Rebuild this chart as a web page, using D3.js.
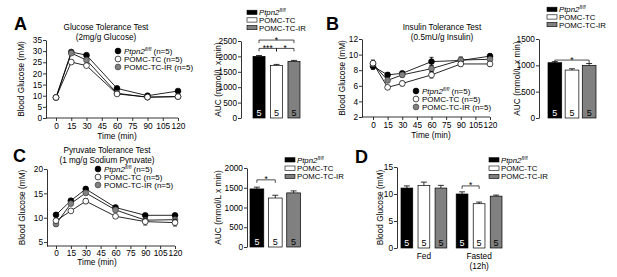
<!DOCTYPE html>
<html lang="en">
  <head>
    <meta charset="UTF-8" />
    <title>Glucose, insulin and pyruvate tolerance</title>
    <style>
      body {
        margin: 0;
        background: #fff;
        font-family: "Liberation Sans", Arial, Helvetica, sans-serif;
      }
      .axis path,
      .axis line {
        stroke: #000;
        stroke-width: 0.8;
      }
      .axis text {
        font-size: 8.3px;
        fill: #000;
      }
    </style>
  </head>
  <body>
    <script src="https://d3js.org/d3.v7.min.js"></script>
    <script>
      const groups = ['Ptpn2', 'POMC-TC', 'POMC-TC-IR'];
      const groupFill = ['#000000', '#ffffff', '#808080'];
      const timePoints = [0, 15, 30, 60, 90, 120];
      const timeTicks = [0, 15, 30, 45, 60, 75, 90, 105, 120];

      // A - glucose tolerance test
      const gttPtpn2 = [9.2, 29.6, 28.2, 13.3, 10.0, 12.1];
      const gttTC = [9.2, 25.1, 23.5, 10.8, 9.4, 9.6];
      const gttIR = [9.2, 29.1, 26.0, 11.1, 9.3, 9.6];
      const gttErr = [0.4, 0.8, 0.7, 0.5, 0.4, 0.5];
      const gttTicks = [0, 5, 10, 15, 20, 25, 30, 35];
      const gttAuc = [2000, 1710, 1840];
      const gttAucErr = [30, 30, 30];
      const gttAucTicks = [0, 500, 1000, 1500, 2000, 2500];

      // B - insulin tolerance test
      const ittPtpn2 = [8.5, 7.4, 7.6, 9.1, 9.25, 9.8];
      const ittTC = [8.9, 5.8, 6.3, 7.4, 8.8, 8.8];
      const ittIR = [8.8, 6.7, 7.4, 8.2, 9.3, 9.4];
      const ittErrPtpn2 = [0.4, 0.3, 0.2, 0.55, 0.3, 0.3];
      const ittErrTC = [0.3, 0.2, 0.3, 0.4, 0.3, 0.3];
      const ittErrIR = [0.5, 0.3, 0.3, 0.4, 0.4, 0.3];
      const ittTicks = [2, 4, 6, 8, 10, 12];
      const ittAuc = [1050, 910, 1000];
      const ittAucErr = [20, 25, 35];
      const ittAucTicks = [0, 500, 1000, 1500];

      // C - pyruvate tolerance test
      const pttPtpn2 = [10.6, 13.5, 15.9, 12.1, 10.5, 10.5];
      const pttTC = [9.4, 11.4, 13.4, 10.3, 9.2, 9.0];
      const pttIR = [8.7, 12.9, 15.1, 11.6, 9.5, 9.6];
      const pttErrPtpn2 = [0.4, 0.3, 0.4, 0.3, 0.3, 0.3];
      const pttErrTC = [0.4, 0.3, 0.5, 0.4, 0.7, 0.7];
      const pttErrIR = [0.5, 0.3, 0.4, 0.3, 0.4, 0.4];
      const pttTicks = [5, 10, 15, 20];
      const pttAuc = [1470, 1240, 1370];
      const pttAucErr = [45, 70, 50];
      const pttAucTicks = [0, 500, 1000, 1500, 2000];

      // D - fed / fasted blood glucose
      const conditions = ['Fed', 'Fasted'];
      const fedGlucose = [11.1, 11.6, 11.1];
      const fastedGlucose = [10.0, 8.2, 9.6];
      const fedErr = [0.4, 0.6, 0.5];
      const fastedErr = [0.4, 0.3, 0.2];
      const glucoseTicks = [0, 5, 10, 15];

      const nPerGroup = [5, 5, 5];

      const svg = d3.select('body').append('svg').attr('width', 617).attr('height', 277);
      const fmt = d3.format('d');

      // italic Ptpn2 with fl/fl superscript
      function groupText(sel, i, suffix) {
        if (i === 0) {
          sel.append('tspan').attr('font-style', 'italic').text('Ptpn2');
          sel.append('tspan').attr('font-style', 'italic').attr('font-size', '0.62em').attr('dy', -3).text('fl/fl');
          sel.append('tspan').attr('dy', 3).text(suffix);
        } else {
          sel.append('tspan').text(groups[i] + suffix);
        }
      }

      function panelLetter(x, y, t) {
        svg.append('text').attr('x', x).attr('y', y).attr('font-size', 18).attr('font-weight', 'bold').text(t);
      }

      function yLabel(x, y, t) {
        svg.append('text')
          .attr('transform', `translate(${x},${y}) rotate(-90)`)
          .attr('text-anchor', 'middle')
          .attr('dy', '0.35em')
          .attr('font-size', 8.3)
          .text(t);
      }

      function lineChart(c) {
        const x = d3.scaleLinear().domain([0, 120]).range([c.x0, c.x1]);
        const y = d3.scaleLinear().domain(c.yDomain).range([c.yBottom, c.yTop]);
        const g = svg.append('g');

        g.append('g').attr('class', 'axis')
          .attr('transform', `translate(${c.axisX},0)`)
          .call(d3.axisLeft(y).tickValues(c.yTicks).tickFormat(fmt).tickSize(3).tickSizeOuter(0).tickPadding(1));

        const xa = g.append('g').attr('class', 'axis')
          .attr('transform', `translate(0,${c.yBottom})`)
          .call(d3.axisBottom(x).tickValues(timeTicks).tickFormat(fmt).tickSize(3).tickSizeOuter(0).tickPadding(c.tickPad));
        xa.select('.domain').attr('d', `M${c.axisX},0H${c.x1}`);

        const line = d3.line().x((d, i) => x(timePoints[i])).y((d) => y(d));

        c.series.forEach((s) => {
          g.append('path').attr('d', line(s.values))
            .attr('fill', 'none').attr('stroke', '#000').attr('stroke-width', 0.85);
        });
        c.series.forEach((s) => {
          s.values.forEach((v, i) => {
            const cx = x(timePoints[i]);
            g.append('line').attr('x1', cx).attr('x2', cx)
              .attr('y1', y(v - s.err[i])).attr('y2', y(v + s.err[i]))
              .attr('stroke', '#000').attr('stroke-width', 0.8);
            [v - s.err[i], v + s.err[i]].forEach((e) => {
              g.append('line').attr('x1', cx - 2).attr('x2', cx + 2)
                .attr('y1', y(e)).attr('y2', y(e))
                .attr('stroke', '#000').attr('stroke-width', 0.8);
            });
          });
          g.selectAll(null).data(s.values).join('circle')
            .attr('cx', (d, i) => x(timePoints[i]))
            .attr('cy', (d) => y(d))
            .attr('r', 2.9)
            .attr('fill', s.fill)
            .attr('stroke', s.fill === '#808080' ? '#444' : '#000')
            .attr('stroke-width', 0.7);
        });

        c.title.forEach((t, i) => {
          svg.append('text').attr('x', c.titleX).attr('y', c.titleY + i * 9.5)
            .attr('text-anchor', 'middle').attr('font-size', 8.2).text(t);
        });
        svg.append('text').attr('x', c.timeX).attr('y', c.yBottom + c.timeDy)
          .attr('text-anchor', 'middle').attr('font-size', 8.3).text('Time (min)');
        yLabel(c.yLabelX, (c.yTop + c.yBottom) / 2, 'Blood Glucose (mM)');

        // legend, drawn in group order
        [0, 1, 2].forEach((i) => {
          const ly = c.legY + i * 8;
          svg.append('circle').attr('cx', c.legX).attr('cy', ly).attr('r', 2.9)
            .attr('fill', groupFill[i]).attr('stroke', i === 2 ? '#444' : '#000').attr('stroke-width', 0.7);
          const t = svg.append('text').attr('x', c.legX + 6).attr('y', ly + 2.9).attr('font-size', 8);
          groupText(t, i, ' (n=5)');
        });
      }

      function barLegend(x, y0, step) {
        [0, 1, 2].forEach((i) => {
          const ly = y0 + i * step;
          svg.append('rect').attr('x', x).attr('y', ly - 2.3).attr('width', 10).attr('height', 4.3)
            .attr('fill', groupFill[i]).attr('stroke', '#000').attr('stroke-width', 0.6);
          const t = svg.append('text').attr('x', x + 12).attr('y', ly + 2.8).attr('font-size', 7.8);
          groupText(t, i, '');
        });
      }

      function drawBars(g, x, y, values, errs, yBottom) {
        values.forEach((v, i) => {
          const bx = x(groups[i]);
          const bw = x.bandwidth();
          g.append('rect').attr('x', bx).attr('y', y(v)).attr('width', bw).attr('height', yBottom - y(v))
            .attr('fill', groupFill[i]).attr('stroke', '#000').attr('stroke-width', 0.7);
          const cx = bx + bw / 2;
          g.append('line').attr('x1', cx).attr('x2', cx).attr('y1', y(v)).attr('y2', y(v + errs[i]))
            .attr('stroke', '#000').attr('stroke-width', 0.8);
          g.append('line').attr('x1', cx - 3).attr('x2', cx + 3).attr('y1', y(v + errs[i])).attr('y2', y(v + errs[i]))
            .attr('stroke', '#000').attr('stroke-width', 0.8);
          g.append('text').attr('x', cx).attr('y', yBottom - 2).attr('text-anchor', 'middle')
            .attr('font-size', 9).attr('fill', i === 0 ? '#fff' : '#000').text(nPerGroup[i]);
        });
      }

      function bracket(g, x, y, a, b, level, label) {
        const xa = x(groups[a]) + x.bandwidth() / 2;
        const xb = x(groups[b]) + x.bandwidth() / 2;
        const ly = y(level);
        g.append('path').attr('d', `M${xa},${ly + 3}V${ly}H${xb}V${ly + 3}`)
          .attr('fill', 'none').attr('stroke', '#000').attr('stroke-width', 0.7);
        g.append('text').attr('x', (xa + xb) / 2).attr('y', ly + 2.5).attr('text-anchor', 'middle')
          .attr('font-size', 8.5).text(label);
      }

      function aucChart(c) {
        const y = d3.scaleLinear().domain(c.yDomain).range([c.yBottom, c.yTop]);
        const x = d3.scaleBand().domain(groups).range(c.xRange).paddingInner(c.pad).paddingOuter(0);
        const g = svg.append('g');
        g.append('g').attr('class', 'axis')
          .attr('transform', `translate(${c.axisX},0)`)
          .call(d3.axisLeft(y).tickValues(c.yTicks).tickFormat(fmt).tickSize(3).tickSizeOuter(0).tickPadding(1));
        drawBars(g, x, y, c.values, c.errs, c.yBottom);
        c.brackets.forEach((b) => bracket(g, x, y, b[0], b[1], b[2], b[3]));
        yLabel(c.yLabelX, (c.yTop + c.yBottom) / 2, 'AUC (mmol/L x min)');
        barLegend(c.legX, c.legY, c.legStep);
      }

      // ---- A ----
      panelLetter(14, 30, 'A');
      lineChart({
        x0: 56, x1: 178, yTop: 40, yBottom: 118, axisX: 46,
        yDomain: [0, 35], yTicks: gttTicks, tickPad: 2,
        series: [
          { values: gttPtpn2, err: gttErr, fill: groupFill[0] },
          { values: gttIR, err: gttErr, fill: groupFill[2] },
          { values: gttTC, err: gttErr, fill: groupFill[1] },
        ],
        title: ['Glucose Tolerance Test', '(2mg/g Glucose)'],
        titleX: 106, titleY: 30, timeX: 117, timeDy: 21, yLabelX: 21,
        legX: 118, legY: 51,
      });
      aucChart({
        axisX: 241, yTop: 41, yBottom: 118, yDomain: [0, 2500], yTicks: gttAucTicks,
        xRange: [253, 300], pad: 0.31, values: gttAuc, errs: gttAucErr,
        brackets: [[0, 1, 2260, '***'], [1, 2, 2260, '*'], [0, 2, 2530, '*']],
        yLabelX: 218, legX: 247, legY: 12.5, legStep: 7.6,
      });

      // ---- B ----
      panelLetter(326, 30, 'B');
      lineChart({
        x0: 373, x1: 490, yTop: 39, yBottom: 117, axisX: 362,
        yDomain: [2, 12], yTicks: ittTicks, tickPad: 2,
        series: [
          { values: ittPtpn2, err: ittErrPtpn2, fill: groupFill[0] },
          { values: ittIR, err: ittErrIR, fill: groupFill[2] },
          { values: ittTC, err: ittErrTC, fill: groupFill[1] },
        ],
        title: ['Insulin Tolerance Test', '(0.5mU/g Insulin)'],
        titleX: 442, titleY: 30, timeX: 431, timeDy: 21, yLabelX: 342,
        legX: 416, legY: 91,
      });
      aucChart({
        axisX: 539, yTop: 39, yBottom: 118, yDomain: [0, 1500], yTicks: ittAucTicks,
        xRange: [548, 596], pad: 0.2, values: ittAuc, errs: ittAucErr,
        brackets: [[0, 2, 1100, '*']],
        yLabelX: 517, legX: 547, legY: 9.5, legStep: 7.6,
      });

      // ---- C ----
      panelLetter(13, 162, 'C');
      lineChart({
        x0: 56, x1: 175, yTop: 169, yBottom: 246, axisX: 47,
        yDomain: [4.2, 20], yTicks: pttTicks, tickPad: 1,
        series: [
          { values: pttPtpn2, err: pttErrPtpn2, fill: groupFill[0] },
          { values: pttIR, err: pttErrIR, fill: groupFill[2] },
          { values: pttTC, err: pttErrTC, fill: groupFill[1] },
        ],
        title: ['Pyruvate Tolerance Test', '(1 mg/g Sodium Pyruvate)'],
        titleX: 107, titleY: 153, timeX: 97, timeDy: 19, yLabelX: 22,
        legX: 98, legY: 169,
      });
      aucChart({
        axisX: 247, yTop: 168, yBottom: 247, yDomain: [0, 2000], yTicks: pttAucTicks,
        xRange: [250, 300.5], pad: 0.25, values: pttAuc, errs: pttAucErr,
        brackets: [[0, 1, 1700, '*']],
        yLabelX: 218, legX: 285, legY: 160, legStep: 8.3,
      });

      // ---- D ----
      panelLetter(355, 163, 'D');
      {
        const yTop = 167, yBottom = 248, axisX = 397;
        const y = d3.scaleLinear().domain([0, 15]).range([yBottom, yTop]);
        const x0 = d3.scaleBand().domain(conditions).range([401, 502]).paddingInner(0.17).paddingOuter(0);
        const g = svg.append('g');
        g.append('g').attr('class', 'axis')
          .attr('transform', `translate(${axisX},0)`)
          .call(d3.axisLeft(y).tickValues(glucoseTicks).tickFormat(fmt).tickSize(3).tickSizeOuter(0).tickPadding(1));
        const sets = [[fedGlucose, fedErr], [fastedGlucose, fastedErr]];
        conditions.forEach((cond, k) => {
          const x = d3.scaleBand().domain(groups)
            .range([x0(cond), x0(cond) + x0.bandwidth()]).paddingInner(0.31).paddingOuter(0);
          drawBars(g, x, y, sets[k][0], sets[k][1], yBottom);
          if (cond === 'Fasted') bracket(g, x, y, 0, 1, 11.5, '*');
        });
        g.append('text').attr('x', x0('Fed') + x0.bandwidth() / 2).attr('y', 259)
          .attr('text-anchor', 'middle').attr('font-size', 8.3).text('Fed');
        g.append('text').attr('x', x0('Fasted') + x0.bandwidth() / 2).attr('y', 259)
          .attr('text-anchor', 'middle').attr('font-size', 8.3).text('Fasted');
        g.append('text').attr('x', x0('Fasted') + x0.bandwidth() / 2).attr('y', 269)
          .attr('text-anchor', 'middle').attr('font-size', 8.3).text('(12h)');
        yLabel(380, (yTop + yBottom) / 2, 'Blood Glucose (mM)');
        barLegend(489, 160, 8.3);
      }
    </script>
  </body>
</html>
